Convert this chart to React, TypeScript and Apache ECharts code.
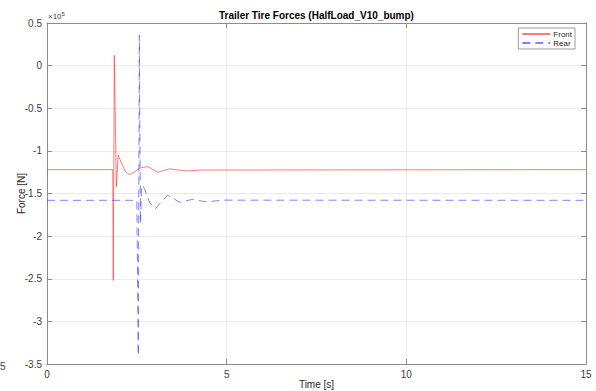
import React, { useEffect, useRef } from "react";
import * as echarts from "echarts";

const titleText = "Trailer Tire Forces (HalfLoad_V10_bump)";
const seriesNames = ["Front", "Rear"];

const xTicks = { min: 0, max: 15, interval: 5 };
const yTicks = { min: -350000, max: 50000, interval: 50000 };

const frontTime = [0, 1.83, 1.845, 1.873, 1.93, 1.98, 2.03, 2.08, 2.18, 2.29, 2.42, 2.59, 2.81, 2.95, 3.09, 3.25, 3.42, 3.65, 3.89, 4.3, 15];
const frontForce = [-122000, -122000, -252000, 12000, -142000, -105000, -110000, -115000, -124000, -128000, -125000, -120000, -118500, -122000, -125000, -123000, -121000, -122500, -123500, -122500, -122000];

const rearTime = [0, 2.5, 2.54, 2.57, 2.6, 2.63, 2.66, 2.72, 2.85, 3.01, 3.18, 3.35, 3.52, 3.7, 3.88, 4.07, 4.25, 4.44, 4.9, 15];
const rearForce = [-158000, -158000, -340000, 35500, -185000, -145000, -140000, -145000, -160000, -168000, -160000, -152000, -156000, -160500, -158500, -156700, -158500, -159800, -157800, -158000];

const font = "'Liberation Sans', Arial, sans-serif";
const axisColor = "#8c8c8c";
const labelColor = "#404040";
const gridColor = "#ebebeb";
const frontColor = "rgba(255,40,40,0.62)";
const rearColor = "rgba(50,50,255,0.62)";

function pairs(t: number[], v: number[]) {
  return t.map((x, i) => [x, v[i]]);
}

export default function App() {
  const ref = useRef<HTMLDivElement>(null);
  useEffect(() => {
    if (!ref.current) return;
    const chart = echarts.init(ref.current, undefined, { renderer: "svg" });
    const baseX = {
      type: "value" as const,
      min: xTicks.min,
      max: xTicks.max,
      interval: xTicks.interval,
      axisLine: { show: true, onZero: false, lineStyle: { color: axisColor, width: 1 } },
      axisTick: { show: true, inside: true, length: 5, lineStyle: { color: axisColor } },
    };
    const baseY = {
      type: "value" as const,
      min: yTicks.min,
      max: yTicks.max,
      interval: yTicks.interval,
      axisLine: { show: true, onZero: false, lineStyle: { color: axisColor, width: 1 } },
      axisTick: { show: true, inside: true, length: 5, lineStyle: { color: axisColor } },
    };
    chart.setOption({
      animation: false,
      backgroundColor: "#ffffff",
      textStyle: { fontFamily: font },
      grid: { left: 47, right: 10, top: 23, bottom: 27, containLabel: false, outerBoundsMode: "none" },
      xAxis: [
        {
          ...baseX,
          position: "bottom",
          name: "Time [s]",
          nameLocation: "middle",
          nameGap: 15,
          nameMoveOverlap: false,
          nameTextStyle: { fontFamily: font, fontSize: 10, color: "#262626" },
          axisLabel: { fontFamily: font, fontSize: 10, color: labelColor, margin: 5 },
          splitLine: { show: true, lineStyle: { color: gridColor, width: 1 } },
        },
        {
          ...baseX,
          position: "top",
          axisLabel: { show: false },
          splitLine: { show: false },
        },
      ],
      yAxis: [
        {
          ...baseY,
          position: "left",
          name: "Force [N]",
          nameLocation: "middle",
          nameGap: 21,
          nameRotate: 90,
          nameMoveOverlap: false,
          nameTextStyle: { fontFamily: font, fontSize: 10, color: "#262626" },
          axisLabel: {
            fontFamily: font,
            fontSize: 10,
            color: labelColor,
            margin: 5,
            formatter: (v: number) => String(Math.round(v / 1e4) / 10),
          },
          splitLine: { show: true, lineStyle: { color: gridColor, width: 1 } },
        },
        {
          ...baseY,
          position: "right",
          axisLabel: { show: false },
          splitLine: { show: false },
        },
      ],
      legend: {
        data: seriesNames,
        orient: "vertical",
        right: 21,
        top: 28,
        padding: [2, 3, 2, 3],
        itemWidth: 28,
        itemHeight: 8,
        itemGap: 1,
        backgroundColor: "#ffffff",
        borderColor: "#9a9a9a",
        borderWidth: 1,
        borderRadius: 0,
        itemStyle: { opacity: 0 },
        textStyle: { fontFamily: font, fontSize: 8, color: "#262626", padding: [0, 0, 0, -2] },
      },
      graphic: [
        {
          type: "text",
          x: 316.5,
          y: 15,
          style: {
            text: titleText,
            fontFamily: font,
            fontSize: 10,
            fontWeight: "bold",
            fill: "#000000",
            textAlign: "center",
            textVerticalAlign: "middle",
          },
        },
        {
          type: "text",
          x: 48,
          y: 16,
          style: {
            text: "×10{s|5}",
            fontFamily: font,
            fontSize: 8,
            fill: labelColor,
            textVerticalAlign: "middle",
            rich: { s: { fontSize: 6, fontFamily: font, fill: labelColor, verticalAlign: "top", padding: [0, 0, 4, 0] } },
          },
        },
        {
          type: "text",
          x: 0,
          y: 366,
          style: { text: "5", fontFamily: font, fontSize: 10, fill: labelColor, textVerticalAlign: "middle" },
        },
      ],
      series: [
        {
          name: seriesNames[0],
          type: "line",
          xAxisIndex: 0,
          yAxisIndex: 0,
          data: pairs(frontTime, frontForce),
          symbol: "none",
          color: frontColor,
          lineStyle: { color: frontColor, width: 1, type: "solid" },
        },
        {
          name: seriesNames[1],
          type: "line",
          xAxisIndex: 0,
          yAxisIndex: 0,
          data: pairs(rearTime, rearForce),
          symbol: "none",
          color: rearColor,
          lineStyle: { color: rearColor, width: 1, type: [8, 5] },
        },
      ],
    });
    return () => chart.dispose();
  }, []);
  return <div ref={ref} style={{ position: "fixed", left: 0, top: 0, width: 596, height: 391 }} />;
}
